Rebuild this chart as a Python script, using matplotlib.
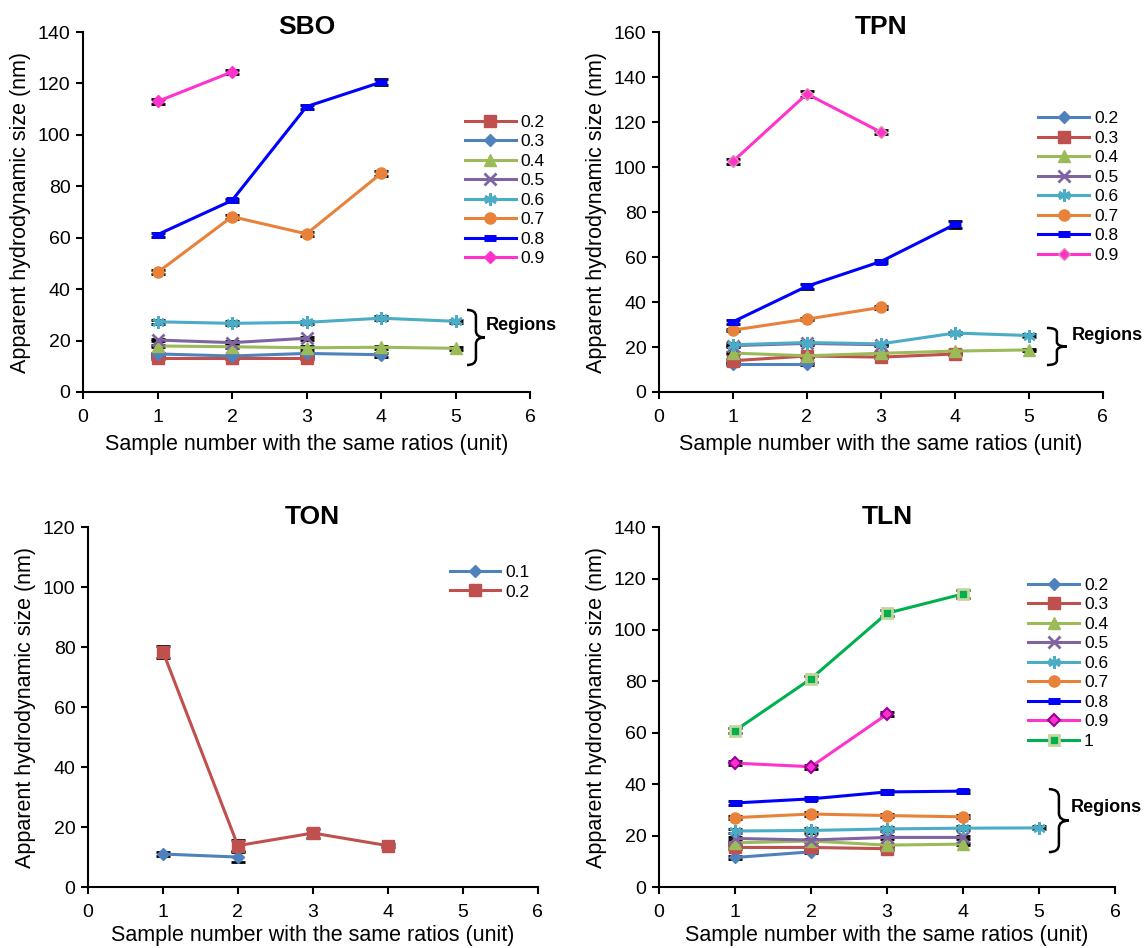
import matplotlib
matplotlib.use("Agg")
from matplotlib import pyplot as plt
from matplotlib.path import Path
from matplotlib.patches import PathPatch

plt.rcParams['font.family'] = ['Liberation Sans', 'DejaVu Sans']

x5 = [1, 2, 3, 4, 5]

# SBO
sbo_labels = ['0.2', '0.3', '0.4', '0.5', '0.6', '0.7', '0.8', '0.9']
sbo_y = [
    [13.3, 13.3, 13.3],
    [14.8, 14.0, 15.0, 14.5],
    [17.9, 17.6, 17.2, 17.4, 17.0],
    [20.2, 19.2, 20.9],
    [27.3, 26.7, 27.1, 28.7, 27.5],
    [46.5, 68.2, 61.5, 85.0],
    [61.2, 74.5, 111.0, 120.5],
    [113.0, 124.5],
]
sbo_err = [
    [0.5, 0.5, 0.5],
    [0.5, 0.5, 0.5, 0.8],
    [0.5, 0.5, 0.5, 0.5, 0.5],
    [0.5, 0.5, 0.5],
    [0.8, 0.8, 0.6, 0.8, 0.6],
    [0.8, 0.8, 0.8, 0.8],
    [0.8, 0.6, 0.8, 1.2],
    [1.0, 0.8],
]

# TPN
tpn_labels = ['0.2', '0.3', '0.4', '0.5', '0.6', '0.7', '0.8', '0.9']
tpn_y = [
    [12.3, 12.3],
    [13.9, 16.0, 15.5, 16.9],
    [17.3, 16.1, 17.2, 18.2, 18.7],
    [20.6, 21.6, 21.0],
    [21.0, 22.0, 21.4, 26.2, 25.1],
    [27.5, 32.4, 37.6],
    [31.2, 47.0, 58.0, 74.5],
    [102.5, 132.5, 115.5],
]
tpn_err = [
    [0.5, 0.5],
    [0.6, 0.6, 0.6, 0.6],
    [0.5, 0.5, 0.5, 0.5, 0.5],
    [0.5, 0.5, 0.5],
    [0.6, 0.8, 0.6, 0.6, 0.6],
    [0.6, 0.6, 0.8],
    [0.8, 1.2, 0.8, 1.5],
    [1.0, 1.2, 1.0],
]

# TON
ton_labels = ['0.1', '0.2']
ton_y = [
    [11.0, 10.0],
    [78.5, 13.8, 18.0, 13.8],
]
ton_err = [
    [0.6, 1.6],
    [2.0, 1.8, 1.5, 0.6],
]

# TLN
tln_labels = ['0.2', '0.3', '0.4', '0.5', '0.6', '0.7', '0.8', '0.9', '1']
tln_y = [
    [11.5, 13.7],
    [15.4, 15.4, 14.9],
    [17.2, 17.9, 16.3, 16.7],
    [18.9, 18.3, 19.3, 19.3],
    [21.8, 22.0, 22.6, 22.9, 23.0],
    [27.0, 28.4, 27.8, 27.3],
    [32.7, 34.3, 37.0, 37.3],
    [48.2, 46.8, 67.2],
    [60.8, 81.0, 106.5, 114.0],
]
tln_err = [
    [0.5, 0.5],
    [0.5, 0.5, 0.5],
    [0.5, 0.5, 0.5, 0.5],
    [0.5, 0.5, 0.5, 0.5],
    [0.8, 0.8, 0.8, 0.8, 0.6],
    [0.6, 0.6, 0.6, 0.6],
    [0.6, 0.6, 0.8, 0.6],
    [0.8, 0.8, 0.8],
    [1.0, 1.2, 1.2, 1.5],
]

# styles (Excel palette)
BLUE, RED, GREEN, PURPLE = '#4F81BD', '#C0504D', '#9BBB59', '#8064A2'
AQUA, ORANGE, DBLUE, PINK, LGREEN = '#4BACC6', '#E8823A', '#0000FF', '#FF33CC', '#00B050'
ASTER = (6, 2, 0)

sty_sq = dict(color=RED, marker='s', ms=8)
sty_di = dict(color=BLUE, marker='D', ms=6)
sty_tr = dict(color=GREEN, marker='^', ms=8)
sty_x = dict(color=PURPLE, marker='x', ms=8, mew=2)
sty_as = dict(color=AQUA, marker=ASTER, ms=9, mew=2)
sty_ci = dict(color=ORANGE, marker='o', ms=8)
sty_da = dict(color=DBLUE, marker='_', ms=9, mew=5)
sty_pk = dict(color=PINK, marker='D', ms=6)
sty_pk2 = dict(color=PINK, marker='D', ms=6, mfc=PINK, mec='#E38CB0')
sty_pk3 = dict(color=PINK, marker='D', ms=6, mfc=PINK, mec='#990099', mew=1.5)
sty_gr = dict(color=LGREEN, marker='s', ms=7, mfc=LGREEN, mec='#C3D69B', mew=2)

sbo_sty = [sty_sq, sty_di, sty_tr, sty_x, sty_as, sty_ci, sty_da, sty_pk]
tpn_sty = [sty_di, sty_sq, sty_tr, sty_x, sty_as, sty_ci, sty_da, sty_pk2]
ton_sty = [sty_di, sty_sq]
tln_sty = [sty_di, sty_sq, sty_tr, sty_x, sty_as, sty_ci, sty_da, sty_pk3, sty_gr]

fig = plt.figure(figsize=(11.47, 9.48), dpi=100)


def draw_brace(ax, x0, x1, y0, y1):
    # curly brace "}" in axes coordinates
    xm = (x0 + x1) / 2
    ym = (y0 + y1) / 2
    r = (y1 - y0) * 0.12
    verts = [(x0, y1), (xm, y1), (xm, y1 - r),
             (xm, ym + r), (xm, ym), (x1, ym),
             (xm, ym), (xm, ym - r),
             (xm, y0 + r), (xm, y0), (x0, y0)]
    codes = [Path.MOVETO, Path.CURVE3, Path.CURVE3,
             Path.LINETO, Path.CURVE3, Path.CURVE3,
             Path.CURVE3, Path.CURVE3,
             Path.LINETO, Path.CURVE3, Path.CURVE3]
    ax.add_patch(PathPatch(Path(verts, codes), fc='none', ec='black', lw=1.8,
                           transform=ax.transAxes, clip_on=False))


def panel(rect, title, labels, ys, errs, styles, ymax, title_y, leg_xy, xlpad,
          brace=None, reg_xy=None):
    ax = fig.add_axes(rect)
    for lab, y, e, s in zip(labels, ys, errs, styles):
        xs = x5[:len(y)]
        ax.errorbar(xs, y, yerr=e, fmt='none', ecolor='black', elinewidth=1.5,
                    capsize=5, capthick=2, zorder=2)
        ax.plot(xs, y, lw=2.2, label=lab, zorder=3, **s)
    ax.set_xlim(0, 6)
    ax.set_ylim(0, ymax)
    ax.set_xticks(range(0, 7))
    ax.set_yticks(range(0, ymax + 1, 20))
    for sp in ['top', 'right']:
        ax.spines[sp].set_visible(False)
    for sp in ['left', 'bottom']:
        ax.spines[sp].set_linewidth(1.5)
    ax.tick_params(labelsize=14, width=1.5, length=5, direction='out', pad=4)
    ax.tick_params(axis='x', pad=7)
    ax.text(0.5, title_y, title, transform=ax.transAxes, fontsize=19,
            fontweight='bold', ha='center', va='center')
    ax.set_xlabel('Sample number with the same ratios (unit)', fontsize=15.5, labelpad=xlpad)
    ax.set_ylabel('Apparent hydrodynamic size (nm)', fontsize=15.5, labelpad=5)
    ax.legend(loc='upper left', bbox_to_anchor=leg_xy, frameon=False, fontsize=12.5,
              handlelength=2.9, handletextpad=0.3, labelspacing=0.25, borderpad=0,
              borderaxespad=0)
    if brace is not None:
        draw_brace(ax, *brace)
        ax.text(reg_xy[0], reg_xy[1], 'Regions', transform=ax.transAxes, fontsize=13,
                fontweight='bold', va='center', ha='left', clip_on=False)
    return ax


panel([0.0724, 0.5865, 0.3897, 0.3797], 'SBO', sbo_labels, sbo_y, sbo_err, sbo_sty,
      140, 1.014, (0.855, 0.77), 6,
      brace=(0.859, 0.899, 0.075, 0.228), reg_xy=(0.902, 0.186))
panel([0.5745, 0.5865, 0.387, 0.3797], 'TPN', tpn_labels, tpn_y, tpn_err, tpn_sty,
      160, 1.014, (0.855, 0.78), 6,
      brace=(0.874, 0.919, 0.075, 0.178), reg_xy=(0.93, 0.158))
panel([0.0767, 0.0643, 0.392, 0.3797], 'TON', ton_labels, ton_y, ton_err, ton_sty,
      120, 1.028, (0.805, 0.895), 3)
panel([0.5745, 0.0643, 0.3976, 0.3797], 'TLN', tln_labels, tln_y, tln_err, tln_sty,
      140, 1.028, (0.81, 0.86), 3,
      brace=(0.855, 0.899, 0.097, 0.272), reg_xy=(0.904, 0.222))

fig.savefig('out.png', dpi=100)
